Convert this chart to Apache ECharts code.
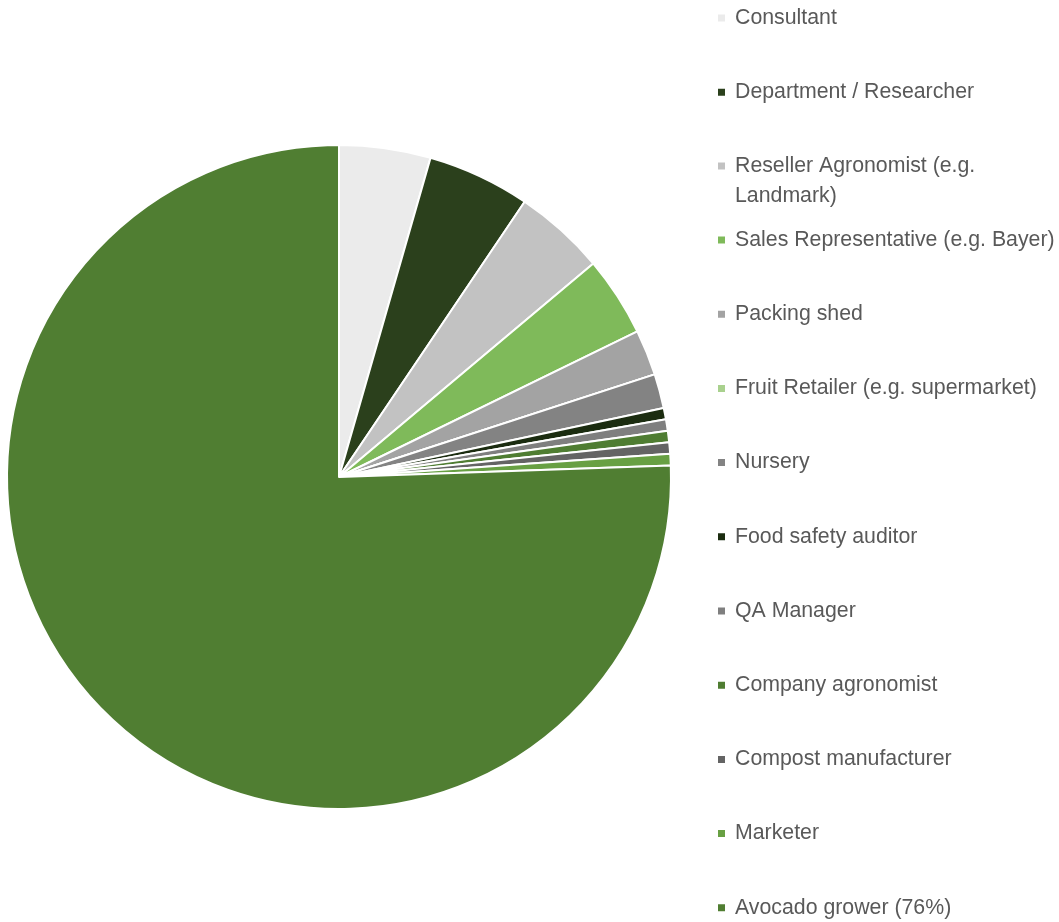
<!DOCTYPE html>
<html>
<head>
<meta charset="utf-8">
<script src="https://cdn.jsdelivr.net/npm/echarts@6/dist/echarts.min.js"></script>
<style>
  html, body { margin: 0; padding: 0; background: #fff; }
  #pie { width: 1059px; height: 922px; }
</style>
</head>
<body>
<div id="pie"></div>
<script>
// respondent roles, clockwise from 12 o'clock
var roles = [
    'Consultant',
    'Department / Researcher',
    'Reseller Agronomist (e.g. Landmark)',
    'Sales Representative (e.g. Bayer)',
    'Packing shed',
    'Fruit Retailer (e.g. supermarket)',
    'Nursery',
    'Food safety auditor',
    'QA Manager',
    'Company agronomist',
    'Compost manufacturer',
    'Marketer',
    'Avocado grower (76%)'
];
var counts = [8, 9, 8, 7, 4, 0, 3, 1, 1, 1, 1, 1, 136];
var colors = ['#ebebeb', '#2b401c', '#c2c2c2', '#7fba5a', '#a3a3a3', '#a9d18e',
              '#838383', '#1b2c10', '#7f7f7f', '#4f7d32', '#646464', '#68a043', '#507e32'];

var pieData = roles.map(function (r, i) {
    return { name: r, value: counts[i], itemStyle: { color: colors[i] } };
});

var legendText = {
    color: '#595959',
    fontFamily: 'Liberation Sans',
    fontSize: 21.3,
    lineHeight: 30,
    padding: [0, 0, 0, 4]
};

// the legend is split in three so the wrapped entry doesn't push the rest down
function makeLegend(names, top, extra) {
    var lg = {
        orient: 'vertical',
        left: 716,
        top: top,
        height: 760,
        padding: 0,
        itemWidth: 9,
        itemHeight: 9,
        itemGap: 44.2,
        icon: 'rect',
        data: names,
        textStyle: legendText
    };
    if (extra) {
        for (var k in extra) lg[k] = extra[k];
    }
    return lg;
}

var option = {
    backgroundColor: '#ffffff',
    animation: false,
    legend: [
        makeLegend(roles.slice(0, 2), 3),
        // blank first line keeps the marker level with the first text line
        makeLegend(roles.slice(2, 3), 121, {
            formatter: function () {
                return '{s| }\n{a|Reseller Agronomist (e.g.}\n{a|Landmark)}';
            },
            textStyle: {
                color: '#595959',
                fontFamily: 'Liberation Sans',
                fontSize: 21.3,
                lineHeight: 30,
                padding: [0, 0, 0, 4],
                rich: {
                    s: { lineHeight: 30, fontSize: 10 },
                    a: {
                        color: '#595959',
                        fontFamily: 'Liberation Sans',
                        fontSize: 21.3,
                        lineHeight: 30
                    }
                }
            }
        }),
        makeLegend(roles.slice(3), 225)
    ],
    series: [{
        name: 'Role',
        type: 'pie',
        center: [339, 477],
        radius: [0, 332],
        startAngle: 90,
        clockwise: true,
        avoidLabelOverlap: false,
        label: { show: false },
        labelLine: { show: false },
        emphasis: { disabled: true },
        itemStyle: {
            borderColor: '#ffffff',
            borderWidth: 2
        },
        data: pieData
    }]
};

var pie = echarts.init(document.getElementById('pie'));
pie.setOption(option);
</script>
</body>
</html>
